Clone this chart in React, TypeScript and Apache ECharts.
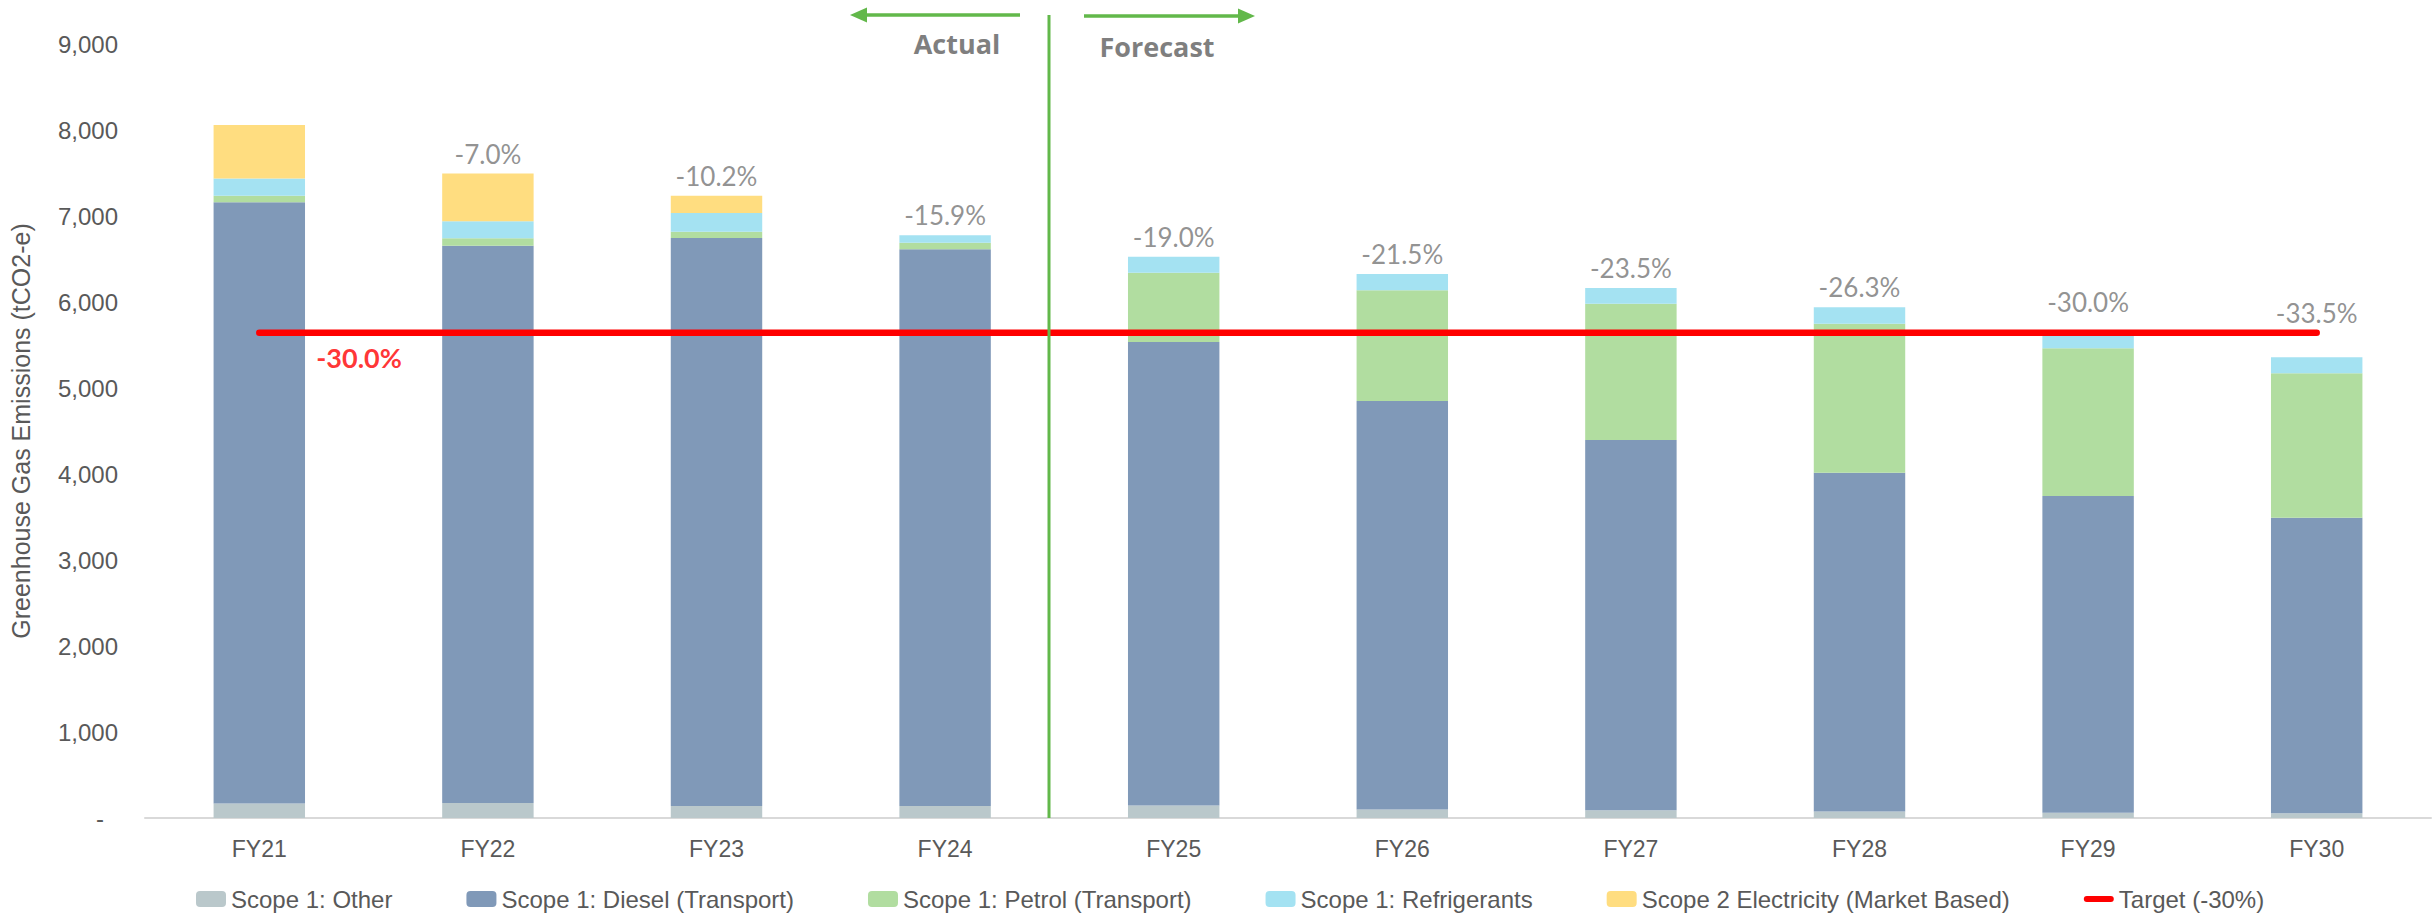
import React, { useEffect, useRef } from "react";
import * as echarts from "echarts";

const categories = ["FY21", "FY22", "FY23", "FY24", "FY25", "FY26", "FY27", "FY28", "FY29", "FY30"];
const scope1Other = [170, 175, 140, 140, 145, 100, 90, 75, 60, 55];
const scope1Diesel = [6990, 6480, 6604, 6472, 5391, 4748, 4304, 3939, 3683, 3435];
const scope1Petrol = [75, 85, 74, 78, 804, 1290, 1585, 1732, 1718, 1682];
const scope1Refrigerants = [200, 200, 218, 87, 187, 188, 185, 193, 180, 187];
const scope2Electricity = [623, 554, 200, 0, 0, 0, 0, 0, 0, 0];
const targetValues = [5641, 5641, 5641, 5641, 5641, 5641, 5641, 5641, 5641, 5641];
const changeLabels = ["", "-7.0%", "-10.2%", "-15.9%", "-19.0%", "-21.5%", "-23.5%", "-26.3%", "-30.0%", "-33.5%"];
const targetLabel = "-30.0%";

const seriesNames = [
  "Scope 1: Other",
  "Scope 1: Diesel (Transport)",
  "Scope 1: Petrol (Transport)",
  "Scope 1: Refrigerants",
  "Scope 2 Electricity (Market Based)",
  "Target (-30%)",
];
const colors = ["#BAC8CB", "#8099B8", "#B1DDA0", "#A4E2F2", "#FFDD80", "#FF0000"];

export default function App() {
  const ref = useRef<HTMLDivElement>(null);
  useEffect(() => {
    if (!ref.current) return;
    const chart = echarts.init(ref.current, null, { renderer: "svg" });
    const stacks = [scope1Other, scope1Diesel, scope1Petrol, scope1Refrigerants, scope2Electricity];
    const totals = categories.map((_, i) => stacks.reduce((s, arr) => s + arr[i], 0));
    const green = "#62B84A";
    const axisFont = "Liberation Sans";
    const legendData = seriesNames.map((n, k) =>
      k === 5 ? { name: n, icon: "path://M3,0 L27,0 A3,3 0 0 1 27,6 L3,6 A3,3 0 0 1 3,0 Z" } : { name: n }
    );
    // labels that sit near the target line are lifted clear of it, as in the source
    const labelLift = (i: number) => (i === 9 ? -24 : i === 8 ? -11 : 0);
    chart.setOption({
      animation: false,
      grid: { left: 138, right: 2, top: 44, bottom: 98, containLabel: false },
      legend: {
        data: legendData,
        left: 191,
        top: 882,
        itemWidth: 30,
        itemHeight: 16,
        itemGap: 74,
        symbolKeepAspect: true,
        textStyle: { fontFamily: axisFont, fontSize: 24, color: "#595959" },
        selectedMode: false,
      },
      xAxis: {
        type: "category",
        data: categories,
        axisLine: { lineStyle: { color: "#D9D9D9", width: 2 } },
        axisTick: { show: false },
        axisLabel: { fontFamily: axisFont, fontSize: 23, color: "#595959", margin: 19 },
      },
      yAxis: {
        type: "value",
        min: 0,
        max: 9000,
        interval: 1000,
        splitLine: { show: false },
        axisLine: { show: false },
        axisTick: { show: false },
        name: "Greenhouse Gas Emissions (tCO2-e)",
        nameLocation: "middle",
        nameGap: 112,
        nameTextStyle: { fontFamily: axisFont, fontSize: 25, color: "#595959" },
        axisLabel: {
          fontFamily: axisFont,
          fontSize: 24,
          color: "#595959",
          margin: 27,
          formatter: (v: number) => (v === 0 ? "{z|-}" : v.toLocaleString("en-US")),
          rich: { z: { fontFamily: axisFont, fontSize: 24, color: "#595959", padding: [0, 14, 0, 0] } },
        },
      },
      series: [
        ...stacks.map((arr, k) => ({
          name: seriesNames[k],
          type: "bar",
          stack: "total",
          barWidth: "40%",
          data: arr,
          itemStyle: { color: colors[k] },
          emphasis: { disabled: true },
        })),
        {
          name: seriesNames[5],
          type: "line",
          data: targetValues,
          symbol: "none",
          lineStyle: { color: colors[5], width: 6.5, cap: "round" },
          itemStyle: { color: colors[5] },
          z: 5,
        },
        {
          name: "targetLabel",
          type: "scatter",
          data: [[0, targetValues[0]]],
          symbolSize: 0,
          z: 6,
          label: {
            show: true,
            position: "right",
            distance: 5,
            offset: [52, 25],
            formatter: () => targetLabel,
            fontFamily: "Lato",
            fontWeight: "bold",
            fontSize: 27,
            color: "#FF0000",
          },
        },
        {
          name: "changeLabels",
          type: "scatter",
          data: totals.map((t, i) => ({ value: [i, t], label: { offset: [0, labelLift(i)] } })),
          symbolSize: 0,
          z: 6,
          label: {
            show: true,
            position: "top",
            distance: 7,
            formatter: (p: any) => changeLabels[p.dataIndex],
            fontFamily: "Lato",
            fontSize: 26,
            color: "#767676",
          },
        },
      ],
      graphic: [
        { type: "line", z: 100, shape: { x1: 1049, y1: 15, x2: 1049, y2: 818 }, style: { stroke: green, lineWidth: 3 } },
        { type: "line", z: 100, shape: { x1: 862, y1: 15, x2: 1020, y2: 15 }, style: { stroke: green, lineWidth: 3.5 } },
        { type: "polygon", z: 100, shape: { points: [[850, 15], [867, 7.5], [867, 22.5]] }, style: { fill: green } },
        { type: "line", z: 100, shape: { x1: 1084, y1: 16, x2: 1243, y2: 16 }, style: { stroke: green, lineWidth: 3.5 } },
        { type: "polygon", z: 100, shape: { points: [[1255, 16], [1238, 8.5], [1238, 23.5]] }, style: { fill: green } },
        {
          type: "text",
          z: 100,
          x: 957,
          y: 43,
          style: { text: "Actual", fontFamily: "Open Sans", fontWeight: "bold", fontSize: 27, fill: "#7F7F7F", align: "center", verticalAlign: "middle" },
        },
        {
          type: "text",
          z: 100,
          x: 1157,
          y: 46,
          style: { text: "Forecast", fontFamily: "Open Sans", fontWeight: "bold", fontSize: 27, fill: "#7F7F7F", align: "center", verticalAlign: "middle" },
        },
      ],
    });
    return () => chart.dispose();
  }, []);
  return <div ref={ref} style={{ position: "fixed", left: 0, top: 0, width: 2433, height: 916, background: "#fff" }} />;
}
